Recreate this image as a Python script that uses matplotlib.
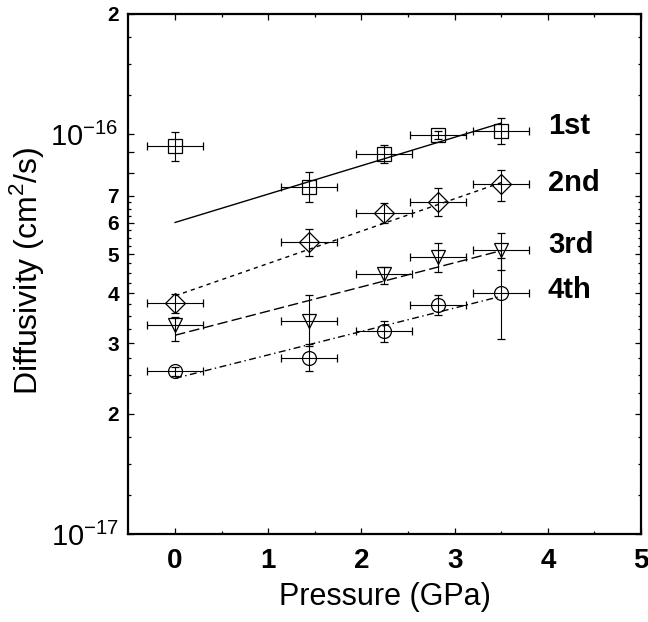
import matplotlib
matplotlib.use('Agg')
import matplotlib.pyplot as plt
from matplotlib.ticker import FixedLocator, NullFormatter

plt.rcParams['font.family'] = 'Liberation Sans'

# pressure of each run (GPa) and its uncertainty
pressure = [0.0, 1.44, 2.24, 2.82, 3.50]
pressure_err = [0.3, 0.3, 0.3, 0.3, 0.3]

# diffusivity in units of 1e-17 cm2/s, with lower / upper error limits
run1 = [9.35, 7.38, 8.91, 9.94, 10.16]
run1_lo = [8.58, 6.77, 8.45, 9.72, 9.43]
run1_hi = [10.13, 8.04, 9.39, 10.18, 10.98]

run2 = [3.79, 5.38, 6.34, 6.76, 7.49]
run2_lo = [3.56, 4.96, 5.98, 6.22, 6.80]
run2_hi = [3.99, 5.79, 6.71, 7.32, 8.15]

run3 = [3.33, 3.41, 4.46, 4.93, 5.13]
run3_lo = [3.04, 2.95, 4.21, 4.53, 4.58]
run3_hi = [3.49, 3.96, 4.66, 5.33, 5.65]

run4 = [2.55, 2.76, 3.22, 3.73, 4.00]
run4_lo = [2.48, 2.56, 3.02, 3.52, 3.08]
run4_hi = [2.62, 2.98, 3.41, 3.95, 4.90]

# fitted lines (end points, same units)
fit_p = [0.0, 3.5]
fit1 = [6.01, 10.65]
fit2 = [3.94, 7.56]
fit3 = [3.14, 5.11]
fit4 = [2.45, 3.93]

run_names = ['1st', '2nd', '3rd', '4th']
name_pos = [10.45, 7.55, 5.28, 4.07]

scale = 1e-17

fig = plt.figure(figsize=(6.48, 6.22), dpi=100)
ax = fig.add_axes([0.1983, 0.1415, 0.7909, 0.8366])

series = [(run1, run1_lo, run1_hi, 's', 10, fit1, None),
          (run2, run2_lo, run2_hi, 'D', 10, fit2, (3, 3)),
          (run3, run3_lo, run3_hi, 'v', 10.5, fit3, (7.5, 3)),
          (run4, run4_lo, run4_hi, 'o', 10, fit4, (5, 2.5, 1, 2.5))]

for vals, lo, hi, mk, ms, fit, dash in series:
    y = [v * scale for v in vals]
    yerr = [[(v - l) * scale for v, l in zip(vals, lo)],
            [(h - v) * scale for v, h in zip(vals, hi)]]
    ax.errorbar(pressure, y, xerr=pressure_err, yerr=yerr, fmt=mk,
                ms=ms, mfc='none', mec='black', mew=0.9,
                ecolor='black', elinewidth=0.8, capsize=3, capthick=0.8)
    line, = ax.plot(fit_p, [f * scale for f in fit], color='black', lw=1.0)
    if dash is not None:
        line.set_dashes(dash)

for name, v in zip(run_names, name_pos):
    ax.text(4.0, v * scale, name, fontsize=21, fontweight='bold',
            ha='left', va='center')

# axes setup
ax.set_xlim(-0.5, 5)
ax.set_yscale('log')
ax.set_ylim(1e-17, 2e-16)

ax.set_xticks([0, 1, 2, 3, 4, 5])
ax.set_xticks([0.5, 1.5, 2.5, 3.5, 4.5], minor=True)
for lbl in ax.get_xticklabels():
    lbl.set_fontsize(20)
    lbl.set_fontweight('bold')

major_y = [1e-17, 2e-17, 3e-17, 4e-17, 5e-17, 6e-17, 7e-17, 8e-17, 9e-17,
           1e-16, 2e-16]
major_lbl = [r'$\mathregular{10^{-17}}$', '2', '3', '4', '5', '6', '7', '', '',
             r'$\mathregular{10^{-16}}$', '2']
minor_y = [k * 1e-17 for k in [1.25, 1.5, 1.75, 2.25, 2.5, 2.75, 3.25, 3.5, 3.75,
                               4.25, 4.5, 4.75, 5.25, 5.5, 5.75, 6.25, 6.5, 6.75,
                               12.5, 15, 17.5]]
ax.yaxis.set_major_locator(FixedLocator(major_y))
ax.yaxis.set_minor_locator(FixedLocator(minor_y))
ax.yaxis.set_minor_formatter(NullFormatter())
ax.set_yticklabels(major_lbl)
for lbl in ax.get_yticklabels():
    if lbl.get_text().startswith('$'):
        lbl.set_fontsize(21)
    else:
        lbl.set_fontsize(15)
        lbl.set_fontweight('bold')

ax.tick_params(which='both', direction='in', top=True, right=True,
               width=0.9, color='black')
ax.tick_params(which='major', length=4.5)
ax.tick_params(which='minor', length=2.2)
ax.tick_params(axis='x', which='major', pad=10)
ax.tick_params(axis='y', which='major', pad=7)

for sp in ax.spines.values():
    sp.set_linewidth(1.6)

ax.set_xlabel('Pressure (GPa)', fontsize=22)
ax.set_ylabel(r'Diffusivity (cm$^\mathregular{2}$/s)', fontsize=23)
ax.xaxis.set_label_coords(0.5, -0.093)
ax.yaxis.set_label_coords(-0.16, 0.505)

fig.savefig('out.png', dpi=100)
